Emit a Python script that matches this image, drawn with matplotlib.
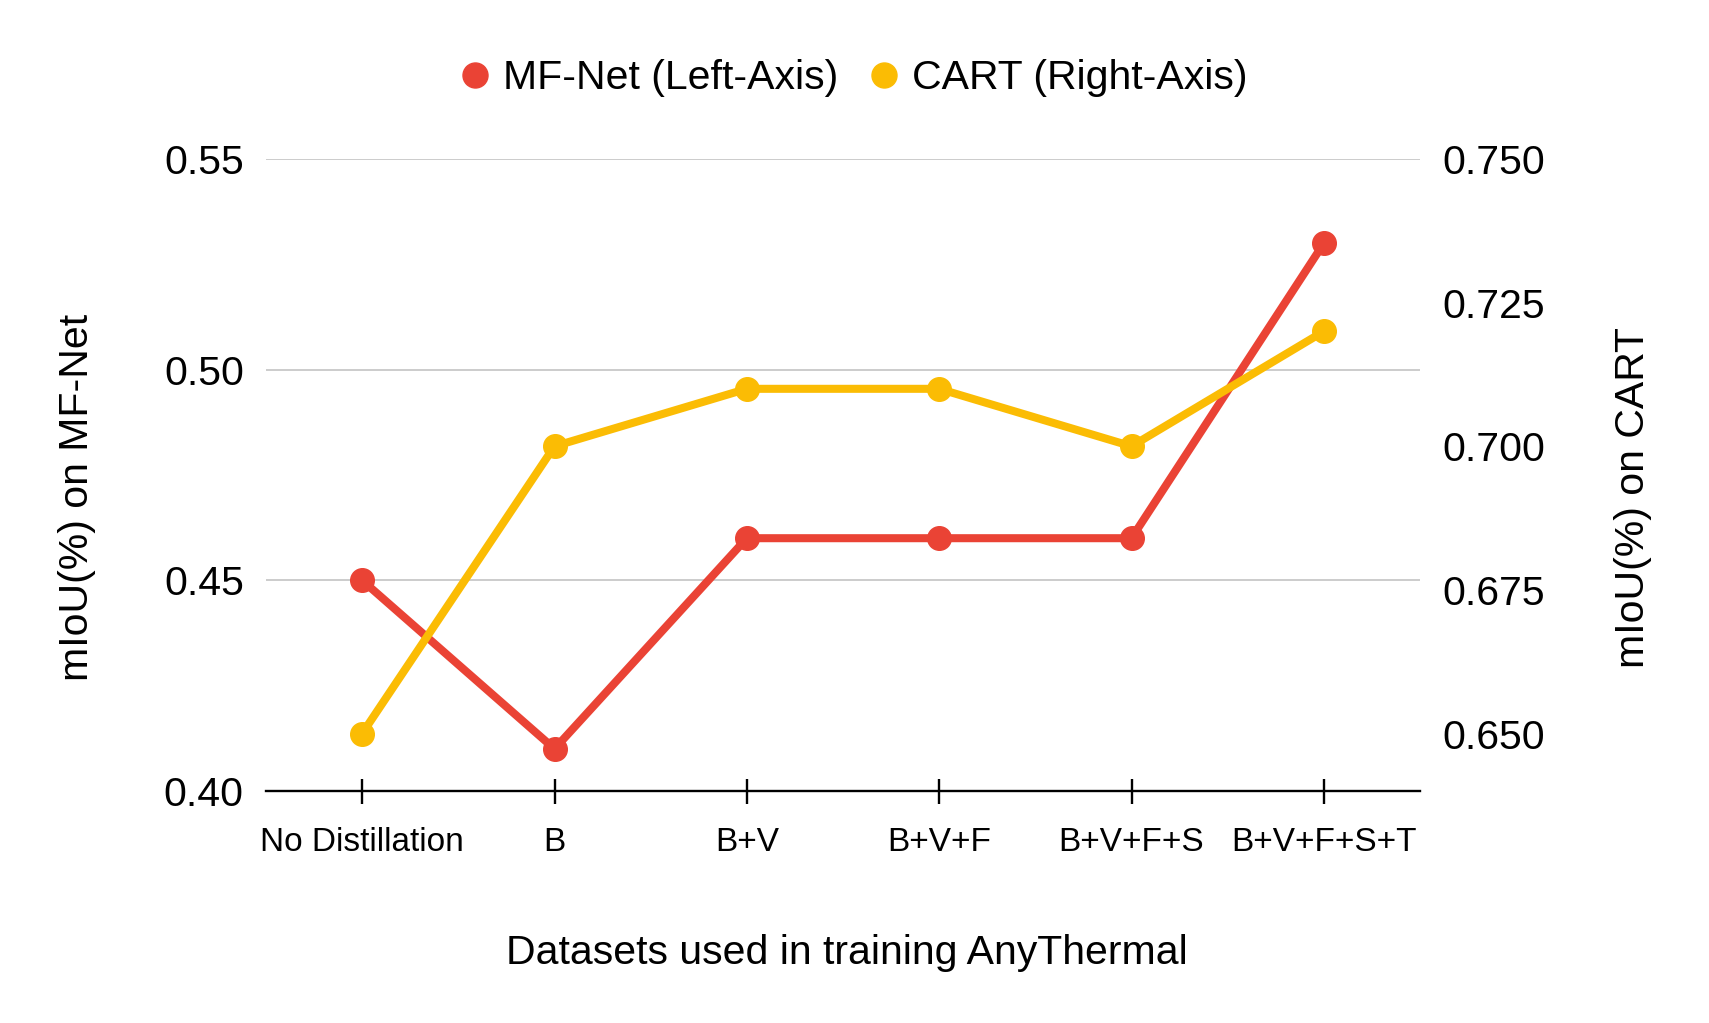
import matplotlib
matplotlib.use("Agg")
import matplotlib.pyplot as plt
from matplotlib.lines import Line2D
from matplotlib.ticker import FormatStrFormatter

plt.rcParams['font.family'] = ['Liberation Sans', 'DejaVu Sans']

categories = ["No Distillation", "B", "B+V", "B+V+F", "B+V+F+S", "B+V+F+S+T"]
mfnet = [0.45, 0.41, 0.46, 0.46, 0.46, 0.53]
cart = [0.650, 0.700, 0.710, 0.710, 0.700, 0.720]
left_ticks = [0.40, 0.45, 0.50, 0.55]
right_ticks = [0.650, 0.675, 0.700, 0.725, 0.750]

RED = "#EA4335"
YELLOW = "#FBBC04"

W, H = 1709, 1023
fig = plt.figure(figsize=(W / 100, H / 100), dpi=100)
ax = fig.add_axes([266 / W, 1 - 791 / H, (1420 - 266) / W, (791 - 159) / H])

x = list(range(len(categories)))
ax.plot(x, mfnet, color=RED, lw=5.8, marker='o', ms=17, solid_capstyle='round', zorder=3)
ax.set_xlim(-0.5, len(categories) - 0.5)
ax.set_ylim(0.40, 0.55)
ax.set_yticks(left_ticks)
ax.yaxis.set_major_formatter(FormatStrFormatter('%.2f'))
ax.grid(axis='y', color='#cccccc', lw=1.4)
ax.set_axisbelow(True)
ax.set_xticks(x)
ax.set_xticklabels(categories, fontsize=24)
for s in ['top', 'left', 'right']:
    ax.spines[s].set_visible(False)
ax.spines['bottom'].set_color('black')
ax.spines['bottom'].set_linewidth(1.7)
ax.spines['bottom'].set_zorder(2)
ax.tick_params(axis='x', direction='inout', length=18, width=1.7, pad=17, colors='black')
ax.tick_params(axis='y', length=0, pad=16, labelsize=29.5)

ax2 = ax.twinx()
ax2.plot(x, cart, color=YELLOW, lw=5.8, marker='o', ms=17, solid_capstyle='round', zorder=3)
ax2.set_ylim(0.64, 0.75)
ax2.set_yticks(right_ticks)
ax2.yaxis.set_major_formatter(FormatStrFormatter('%.3f'))
for s in ['top', 'left', 'right', 'bottom']:
    ax2.spines[s].set_visible(False)
ax2.tick_params(axis='y', length=0, pad=16, labelsize=29.5)

fig.text(77 / W, 1 - 497 / H, "mIoU(%) on MF-Net", rotation=90, ha='center', va='center', fontsize=29.5)
fig.text(1633 / W, 1 - 497 / H, "mIoU(%) on CART", rotation=90, ha='center', va='center', fontsize=29.5)
fig.text(847 / W, 1 - 953 / H, "Datasets used in training AnyThermal", ha='center', va='center', fontsize=29.5)

handles = [
    Line2D([], [], color=RED, marker='o', ls='none', ms=18),
    Line2D([], [], color=YELLOW, marker='o', ls='none', ms=18),
]
fig.legend(handles, ["MF-Net (Left-Axis)", "CART (Right-Axis)"], loc='center',
           bbox_to_anchor=(855 / W, 1 - 78 / H), ncol=2, frameon=False, fontsize=29.5,
           handlelength=0.6, handletextpad=0.4, columnspacing=0.8, borderpad=0)

fig.savefig("out.png", dpi=100, facecolor='white')
